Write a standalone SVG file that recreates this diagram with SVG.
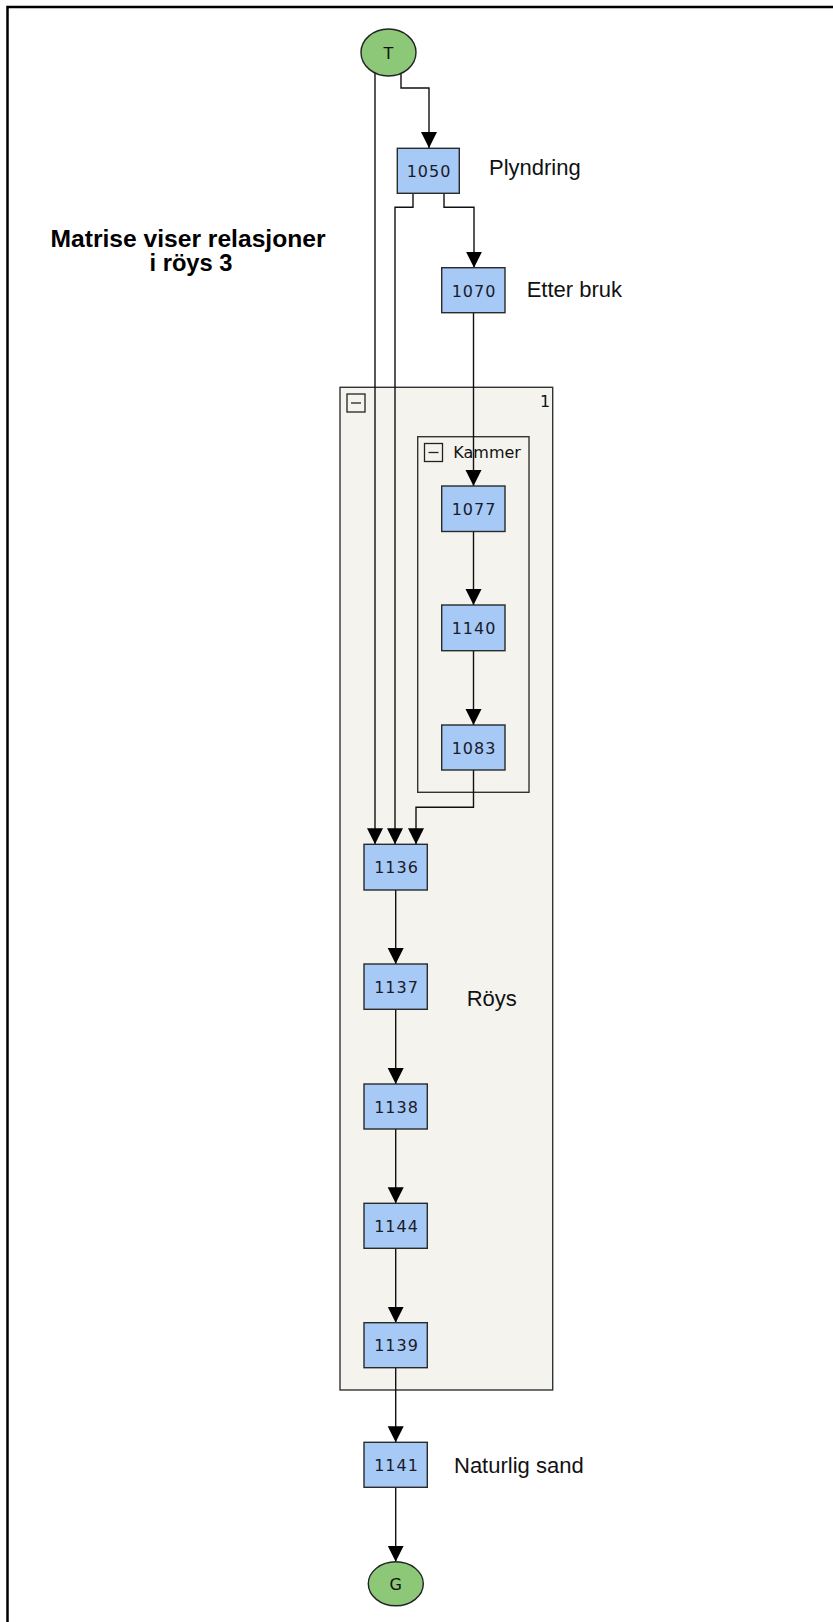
<svg xmlns="http://www.w3.org/2000/svg" width="833" height="1622" viewBox="0 0 833 1622">
<defs>
<marker id="arr" markerUnits="userSpaceOnUse" markerWidth="17" markerHeight="17" refX="16" refY="8" orient="auto">
<path d="M0,0 L16,8 L0,16 z" fill="#000"/>
</marker>
<style>
.box{fill:#a6c9f5;stroke:#2a2a2a;stroke-width:1.4}
.num{font-family:"DejaVu Sans",sans-serif;font-size:16px;letter-spacing:1px;fill:#1a1a2a;text-anchor:middle}
.lbl{font-family:"Liberation Sans",Arial,sans-serif;font-size:22px;fill:#111}
.cont{fill:#f4f3ee;stroke:#333;stroke-width:1.4}
.icon{fill:none;stroke:#222;stroke-width:1.3}
.term{fill:#8cc878;stroke:#222;stroke-width:1.4}
.ctext{font-family:"DejaVu Sans",sans-serif;font-size:16px;fill:#111}
.edge{fill:none;stroke:#111;stroke-width:1.4;marker-end:url(#arr)}
</style>
</defs>
<rect x="0" y="0" width="833" height="1622" fill="#fff"/>
<path d="M7.5,1622 V7 H833" fill="none" stroke="#000" stroke-width="2.5"/>

<g id="title">
<text x="188" y="247" font-family="Liberation Sans,Arial,sans-serif" font-weight="bold" font-size="23" text-anchor="middle" textLength="275" lengthAdjust="spacingAndGlyphs" fill="#000">Matrise viser relasjoner</text>
<text x="191" y="271" font-family="Liberation Sans,Arial,sans-serif" font-weight="bold" font-size="23" text-anchor="middle" textLength="83" lengthAdjust="spacingAndGlyphs" fill="#000">i röys 3</text>
</g>

<g id="group-1">
<rect class="cont" x="340" y="387.3" width="212.7" height="1002.7"/>
<rect class="icon" x="347" y="394" width="18" height="18"/>
<line class="icon" x1="351" y1="403" x2="361" y2="403"/>
<text class="ctext" x="540" y="407">1</text>
</g>
<g id="group-kammer">
<rect class="cont" x="417.7" y="436.7" width="111.3" height="355.6"/>
<rect class="icon" x="424.5" y="443.5" width="18" height="18"/>
<line class="icon" x1="428.5" y1="452.5" x2="438.5" y2="452.5"/>
<text class="ctext" x="453.3" y="458" font-size="16.5">Kammer</text>
</g>

<g id="connectors">
<path class="edge" d="M375,73 V844.3"/>
<path class="edge" d="M401,74 V88 H429 V148"/>
<path class="edge" d="M413,193 V207.3 H395 V844.3"/>
<path class="edge" d="M444,193 V207.3 H474 V267.7"/>
<path class="edge" d="M473.5,312.7 V486"/>
<path class="edge" d="M473.5,531.5 V605"/>
<path class="edge" d="M473.5,650.7 V725"/>
<path class="edge" d="M473.5,770 V807.3 H416 V844.3"/>
<path class="edge" d="M395.7,890 V964"/>
<path class="edge" d="M395.7,1009.3 V1084"/>
<path class="edge" d="M395.7,1129 V1203.3"/>
<path class="edge" d="M395.7,1248.3 V1322.7"/>
<path class="edge" d="M395.7,1367.7 V1442.3"/>
<path class="edge" d="M395.7,1487.3 V1561.7"/>
</g>

<g id="T">
<ellipse class="term" cx="388.5" cy="52.5" rx="27.5" ry="23.5"/>
<text x="388.5" y="58.5" font-family="DejaVu Sans,sans-serif" font-size="16" text-anchor="middle" fill="#111">T</text>
</g>
<g id="n1050">
<rect class="box" x="397.3" y="148.3" width="62" height="45"/>
<text class="num" x="429" y="177">1050</text>
<text class="lbl" x="489" y="175">Plyndring</text>
</g>
<g id="n1070">
<rect class="box" x="441.7" y="267.7" width="63.3" height="45"/>
<text class="num" x="474" y="296.5">1070</text>
<text class="lbl" x="526.7" y="296.7">Etter bruk</text>
</g>
<g id="n1077">
<rect class="box" x="441.7" y="486" width="63.3" height="45.5"/>
<text class="num" x="474" y="515">1077</text>
</g>
<g id="n1140">
<rect class="box" x="441.7" y="605" width="63.3" height="45.7"/>
<text class="num" x="474" y="634">1140</text>
</g>
<g id="n1083">
<rect class="box" x="441.7" y="725" width="63.3" height="45"/>
<text class="num" x="474" y="753.5">1083</text>
</g>
<g id="n1136">
<rect class="box" x="364" y="844.3" width="63.3" height="45.7"/>
<text class="num" x="396.5" y="873">1136</text>
</g>
<g id="n1137">
<rect class="box" x="364" y="964" width="63.3" height="45.3"/>
<text class="num" x="396.5" y="992.5">1137</text>
<text class="lbl" x="466.7" y="1005.7">Röys</text>
</g>
<g id="n1138">
<rect class="box" x="364" y="1084" width="63.3" height="45"/>
<text class="num" x="396.5" y="1112.5">1138</text>
</g>
<g id="n1144">
<rect class="box" x="364" y="1203.3" width="63.3" height="45"/>
<text class="num" x="396.5" y="1232">1144</text>
</g>
<g id="n1139">
<rect class="box" x="364" y="1322.7" width="63.3" height="45"/>
<text class="num" x="396.5" y="1351">1139</text>
</g>
<g id="n1141">
<rect class="box" x="364" y="1442.3" width="63.3" height="45"/>
<text class="num" x="396.5" y="1471">1141</text>
<text class="lbl" x="454" y="1472.7">Naturlig sand</text>
</g>
<g id="G">
<ellipse class="term" cx="395.8" cy="1583.8" rx="27.5" ry="22"/>
<text x="395.8" y="1589.5" font-family="DejaVu Sans,sans-serif" font-size="16" text-anchor="middle" fill="#111">G</text>
</g>
</svg>
